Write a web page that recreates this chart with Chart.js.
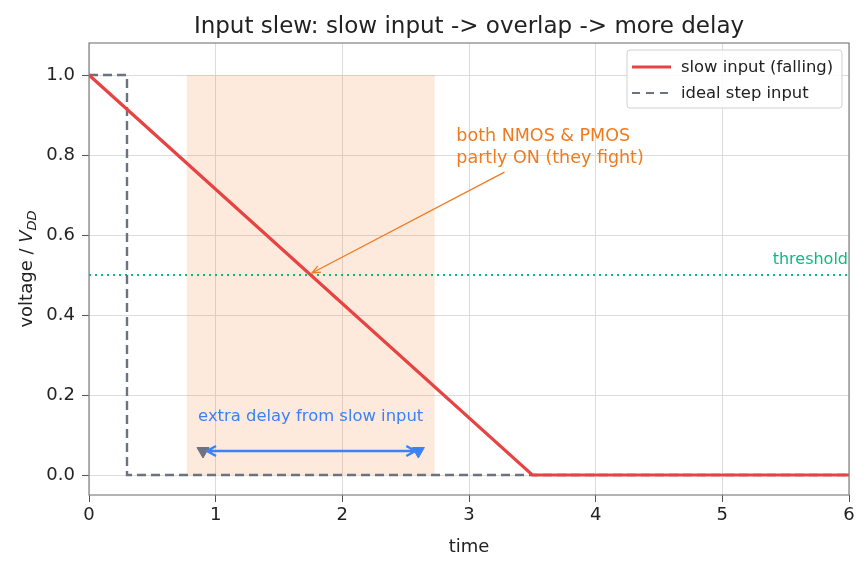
<!DOCTYPE html>
<html>
<head>
<meta charset="utf-8">
<script src="https://cdn.jsdelivr.net/npm/chart.js@4"></script>
<style>
  html, body { margin: 0; padding: 0; background: #fff; }
  #wrap { width: 868px; height: 569px; position: relative; }
</style>
</head>
<body>
<div id="wrap"><canvas id="chart"></canvas></div>
<script>
/* Input slew chart: Chart.js line/scatter with a few drawn annotations */

const slowT = [0, 3.5, 6];
const slowV = [1, 0, 0];
const stepT = [0, 0.3, 0.3, 6];
const stepV = [1, 1, 0, 0];
const thresholdV = 0.5;
const overlapT = [0.77, 2.73];
const overlapV = [1, 1];
const markerT = [0.9, 2.6];
const markerV = [0.06, 0.06];
const xTicks = [0, 1, 2, 3, 4, 5, 6];
const yTicks = [0, 0.2, 0.4, 0.6, 0.8, 1.0];

const FONT = "'DejaVu Sans', sans-serif";
const RED = '#e84343';
const GRAY = '#6b7280';
const GREEN = '#10b981';
const ORANGE = '#f07a1f';
const BLUE = '#3b82f6';

function pts(xs, ys) {
  return xs.map((x, i) => ({ x, y: ys[i] }));
}

const overlay = {
  id: 'overlay',
  afterDatasetsDraw(chart) {
    const { ctx, chartArea: a, scales } = chart;
    const X = v => scales.x.getPixelForValue(v);
    const Y = v => scales.y.getPixelForValue(v);
    ctx.save();

    // frame
    ctx.strokeStyle = '#808080';
    ctx.lineWidth = 1.2;
    ctx.strokeRect(a.left, a.top, a.right - a.left, a.bottom - a.top);

    // threshold label
    ctx.fillStyle = GREEN;
    ctx.font = `16px ${FONT}`;
    ctx.textAlign = 'right';
    ctx.textBaseline = 'alphabetic';
    ctx.fillText('threshold', a.right - 1, Y(thresholdV) - 11);

    // annotation arrow
    const x0 = X(3.28), y0 = Y(0.757), x1 = X(1.76), y1 = Y(0.505);
    ctx.strokeStyle = ORANGE;
    ctx.lineWidth = 1.3;
    ctx.beginPath();
    ctx.moveTo(x0, y0);
    ctx.lineTo(x1, y1);
    const ang = Math.atan2(y1 - y0, x1 - x0);
    ctx.moveTo(x1 - 9 * Math.cos(ang - 0.4), y1 - 9 * Math.sin(ang - 0.4));
    ctx.lineTo(x1, y1);
    ctx.lineTo(x1 - 9 * Math.cos(ang + 0.4), y1 - 9 * Math.sin(ang + 0.4));
    ctx.stroke();
    ctx.fillStyle = ORANGE;
    ctx.font = `17.5px ${FONT}`;
    ctx.textAlign = 'left';
    ctx.fillText('both NMOS & PMOS', X(2.9), Y(0.835));
    ctx.fillText('partly ON (they fight)', X(2.9), Y(0.78));

    // extra delay double arrow
    const ax0 = X(markerT[0]) + 4, ax1 = X(markerT[1]) - 3, ay = Y(markerV[0]);
    ctx.strokeStyle = BLUE;
    ctx.lineWidth = 2.4;
    ctx.beginPath();
    ctx.moveTo(ax0 + 2, ay);
    ctx.lineTo(ax1 - 2, ay);
    ctx.moveTo(ax0 + 9, ay - 5);
    ctx.lineTo(ax0, ay);
    ctx.lineTo(ax0 + 9, ay + 5);
    ctx.moveTo(ax1 - 9, ay - 5);
    ctx.lineTo(ax1, ay);
    ctx.lineTo(ax1 - 9, ay + 5);
    ctx.stroke();
    ctx.fillStyle = BLUE;
    ctx.font = `16.4px ${FONT}`;
    ctx.textAlign = 'center';
    ctx.fillText('extra delay from slow input', X(1.75), Y(0.135));

    // titles
    ctx.fillStyle = '#222';
    ctx.font = `23px ${FONT}`;
    ctx.fillText('Input slew: slow input -> overlap -> more delay', (a.left + a.right) / 2, 33);
    ctx.font = `18px ${FONT}`;
    ctx.fillText('time', (a.left + a.right) / 2, 552);
    ctx.translate(32, (a.top + a.bottom) / 2);
    ctx.rotate(-Math.PI / 2);
    const p1 = 'voltage / ', p2 = 'V', p3 = 'DD';
    ctx.font = `18px ${FONT}`;
    const w1 = ctx.measureText(p1).width;
    ctx.font = `italic 18px ${FONT}`;
    const w2 = ctx.measureText(p2).width;
    ctx.font = `italic 13px ${FONT}`;
    const w3 = ctx.measureText(p3).width;
    let sx = -(w1 + w2 + w3) / 2;
    ctx.textAlign = 'left';
    ctx.font = `18px ${FONT}`;
    ctx.fillText(p1, sx, 0);
    sx += w1;
    ctx.font = `italic 18px ${FONT}`;
    ctx.fillText(p2, sx, 0);
    sx += w2;
    ctx.font = `italic 13px ${FONT}`;
    ctx.fillText(p3, sx, 4);
    ctx.restore();

    // legend
    ctx.save();
    const lx = a.right - 222, ly = a.top + 7, lw = 215, lh = 58;
    ctx.fillStyle = 'rgba(255,255,255,0.85)';
    ctx.strokeStyle = '#d0d0d0';
    ctx.lineWidth = 1;
    ctx.beginPath();
    ctx.roundRect(lx, ly, lw, lh, 3);
    ctx.fill();
    ctx.stroke();
    ctx.lineWidth = 3;
    ctx.strokeStyle = RED;
    ctx.beginPath();
    ctx.moveTo(lx + 5, ly + 17);
    ctx.lineTo(lx + 44, ly + 17);
    ctx.stroke();
    ctx.lineWidth = 2.2;
    ctx.strokeStyle = GRAY;
    ctx.setLineDash([8, 6]);
    ctx.beginPath();
    ctx.moveTo(lx + 5, ly + 43);
    ctx.lineTo(lx + 44, ly + 43);
    ctx.stroke();
    ctx.setLineDash([]);
    ctx.fillStyle = '#222';
    ctx.font = `16.4px ${FONT}`;
    ctx.textAlign = 'left';
    ctx.textBaseline = 'middle';
    ctx.fillText('slow input (falling)', lx + 54, ly + 18);
    ctx.fillText('ideal step input', lx + 54, ly + 44);
    ctx.restore();
  }
};

function init() {
  const ctx = document.getElementById('chart');
  new Chart(ctx, {
    type: 'line',
    data: {
      datasets: [
        {
          label: 'overlap',
          data: pts(overlapT, overlapV),
          borderWidth: 0,
          pointRadius: 0,
          fill: 'origin',
          backgroundColor: 'rgba(249,115,22,0.15)',
          order: 5,
        },
        {
          label: 'threshold',
          data: pts([0, 6], [thresholdV, thresholdV]),
          borderColor: GREEN,
          borderWidth: 1.8,
          borderDash: [2, 4],
          pointRadius: 0,
          order: 4,
        },
        {
          label: 'ideal step input',
          data: pts(stepT, stepV),
          borderColor: GRAY,
          borderWidth: 2.4,
          borderDash: [9, 5],
          pointRadius: 0,
          order: 2,
        },
        {
          label: 'slow input (falling)',
          data: pts(slowT, slowV),
          borderColor: RED,
          borderWidth: 3.2,
          pointRadius: 0,
          order: 1,
        },
        {
          label: 'markers',
          type: 'scatter',
          data: pts(markerT, markerV),
          pointStyle: 'triangle',
          rotation: 180,
          radius: 7,
          pointBackgroundColor: [GRAY, BLUE],
          pointBorderColor: [GRAY, BLUE],
          order: 0,
        },
      ],
    },
    options: {
      responsive: true,
      maintainAspectRatio: false,
      animation: false,
      events: [],
      layout: { padding: { top: 43, right: 19, left: 0, bottom: 0 } },
      scales: {
        x: {
          type: 'linear',
          min: 0,
          max: 6,
          afterFit: s => { s.height = 74; },
          afterBuildTicks: s => { s.ticks = xTicks.map(v => ({ value: v })); },
          ticks: { color: '#222', font: { family: FONT, size: 18 }, padding: 3, callback: v => String(v) },
          grid: { color: '#dcdcdc', tickColor: '#555', tickLength: 7, lineWidth: 1 },
          border: { display: false },
        },
        y: {
          min: -0.05,
          max: 1.08,
          afterFit: s => { s.width = 89; },
          afterBuildTicks: s => { s.ticks = yTicks.map(v => ({ value: v })); },
          ticks: { color: '#222', font: { family: FONT, size: 18 }, padding: 7, callback: v => v.toFixed(1) },
          grid: { color: '#dcdcdc', tickColor: '#555', tickLength: 7, lineWidth: 1 },
          border: { display: false },
        },
      },
      plugins: {
        legend: { display: false },
        tooltip: { enabled: false },
        title: { display: false },
      },
    },
    plugins: [overlay],
  });
}

document.addEventListener('DOMContentLoaded', init);
</script>
</body>
</html>
